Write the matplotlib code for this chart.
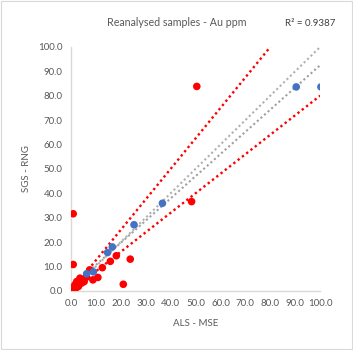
import matplotlib
matplotlib.use("Agg")
import matplotlib.pyplot as plt
from matplotlib.patches import Rectangle

plt.rcParams['font.family'] = ['Lato', 'DejaVu Sans']

# Data (ALS - MSE vs SGS - RNG), Au ppm
red_x = [0.9, 0.9, 50.5, 48.4, 23.8, 21.0, 18.2, 15.8, 12.6, 7.5, 10.8, 8.8, 5.3, 3.6,
         2.3, 1.6, 0.7, 3.0, 4.3, 0.5, 1.2, 2.0, 4.8, 6.2, 0.3]
red_y = [31.6, 10.8, 83.8, 36.6, 13.0, 2.7, 14.4, 12.1, 9.5, 8.6, 5.5, 4.5, 3.8, 5.2,
         3.8, 2.5, 1.1, 1.8, 3.2, 0.4, 0.8, 1.2, 4.6, 5.6, 0.2]
blue_x = [100.3, 90.4, 36.7, 25.3, 16.6, 14.7, 9.0, 6.3]
blue_y = [83.6, 83.6, 35.9, 27.1, 18.0, 15.7, 7.8, 7.0]

# Reference lines
upper_slope, lower_slope = 1.25, 0.8
trend_slope, trend_intercept = 0.91, 1.5
r2_text = "R\u00b2 = 0.9387"

fig = plt.figure(figsize=(3.53, 3.50), dpi=100)
fig.patches.append(Rectangle((0.003, 0.003), 0.994, 0.994, transform=fig.transFigure,
                             fill=False, edgecolor='#D9D9D9', linewidth=0.8))
ax = fig.add_axes([0.201, 0.169, 0.706, 0.697])

dot = (0, (1, 1.3))
ax.plot([0, 100 / upper_slope], [0, 100], color='#FF0000', linestyle=dot, lw=1.7, zorder=2)
ax.plot([0, 100], [0, 100 * lower_slope], color='#FF0000', linestyle=dot, lw=1.7, zorder=2)
ax.plot([0, 100], [0, 100], color='#B0B0B0', linestyle=dot, lw=1.5, zorder=2)
ax.plot([0, 100], [trend_intercept, trend_intercept + 100 * trend_slope], color='#A0A0A0',
        linestyle=dot, lw=1.5, zorder=2)

ax.scatter(red_x, red_y, s=30, color='#FF0000', edgecolors='none', zorder=3)
ax.scatter(blue_x, blue_y, s=30, color='#4472C4', edgecolors='none', zorder=4)

ax.set_xlim(0, 100)
ax.set_ylim(0, 100)
ticks = [0, 10, 20, 30, 40, 50, 60, 70, 80, 90, 100]
ax.set_xticks(ticks)
ax.set_yticks(ticks)
ax.set_xticklabels([f"{t:.1f}" for t in ticks])
ax.set_yticklabels([f"{t:.1f}" for t in ticks])
ax.tick_params(length=0, labelsize=7, colors='#595959', pad=6)
for s in ['top', 'right']:
    ax.spines[s].set_visible(False)
for s in ['left', 'bottom']:
    ax.spines[s].set_color('#D9D9D9')
    ax.spines[s].set_linewidth(1.0)

ax.set_xlabel("ALS - MSE", fontsize=7, color='#595959', labelpad=8)
ax.set_ylabel("SGS - RNG", fontsize=7, color='#595959', labelpad=5)
fig.text(0.502, 0.937, "Reanalysed samples - Au ppm", fontsize=7.7, color='#595959', ha='center', va='center')
fig.text(0.878, 0.932, r2_text, fontsize=7, color='#404040', ha='center', va='center')

fig.savefig("out.png", dpi=100)
